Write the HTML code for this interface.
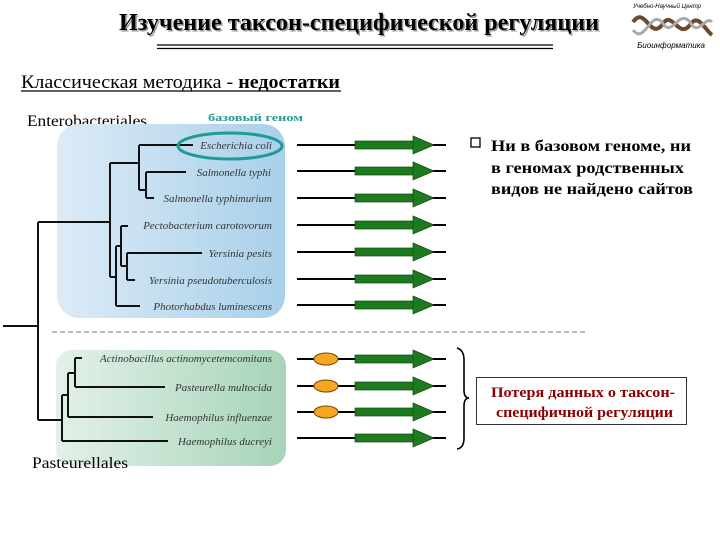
<!DOCTYPE html>
<html><head><meta charset="utf-8"><style>
html,body{margin:0;padding:0;background:#fff;width:720px;height:540px;overflow:hidden}
svg{display:block}
</style></head><body>
<svg width="720" height="540" xmlns="http://www.w3.org/2000/svg" font-family="'Liberation Serif','Noto Serif CJK SC',serif">
<defs>
<linearGradient id="gb" x1="0" x2="1" y1="0" y2="0"><stop offset="0" stop-color="#dcebf6"/><stop offset="1" stop-color="#a9d0ea"/></linearGradient>
<linearGradient id="gg" x1="0" x2="1" y1="0" y2="0"><stop offset="0" stop-color="#e3f1e8"/><stop offset="1" stop-color="#a6d4b9"/></linearGradient>
<g id="arr"><line x1="297" y1="0" x2="446" y2="0" stroke="#000" stroke-width="2"/><rect x="355" y="-4" width="59" height="8" fill="#1e7a1e" stroke="#0d4d0d" stroke-width="0.7"/><polygon points="413,-9 434,0 413,9" fill="#1e7a1e" stroke="#0d4d0d" stroke-width="0.7"/></g>
</defs>
<!-- title -->
<text x="119" y="30" font-size="24" font-weight="bold" fill="#999" transform="translate(1.5,1.5)" textLength="480" lengthAdjust="spacingAndGlyphs">Изучение таксон-специфической регуляции</text>
<text x="119" y="30" font-size="24" font-weight="bold" fill="#000" textLength="480" lengthAdjust="spacingAndGlyphs">Изучение таксон-специфической регуляции</text>
<line x1="157" y1="45" x2="553" y2="45" stroke="#000" stroke-width="1.2"/>
<line x1="157" y1="48.5" x2="553" y2="48.5" stroke="#000" stroke-width="1.2"/>
<!-- logo -->
<text x="667" y="8" text-anchor="middle" font-size="6" font-style="italic" font-family="'Liberation Sans',sans-serif">Учебно-Научный Центр</text>
<path d="M633 22 C645 5 650 40 662 25 C672 8 678 40 690 25 C698 12 705 30 712 35" stroke="#6b4a2a" stroke-width="4" fill="none"/>
<path d="M633 30 C645 45 650 10 662 22 C672 40 678 8 690 22 C698 38 705 15 712 22" stroke="#aaa" stroke-width="3" fill="none"/>
<text x="671" y="48" text-anchor="middle" font-size="8" font-style="italic" font-family="'Liberation Sans',sans-serif">Биоинформатика</text>
<!-- subtitle -->
<text x="21" y="88" font-size="19" textLength="319" lengthAdjust="spacingAndGlyphs"><tspan>Классическая методика - </tspan><tspan font-weight="bold">недостатки</tspan></text>
<line x1="21" y1="91" x2="341" y2="91" stroke="#000" stroke-width="1.2"/>
<text x="27" y="126" font-size="16" textLength="120" lengthAdjust="spacingAndGlyphs">Enterobacteriales</text>
<text x="208" y="121" font-size="11" font-weight="bold" fill="#2a9a93" textLength="95" lengthAdjust="spacingAndGlyphs">базовый геном</text>
<!-- boxes -->
<rect x="57" y="124" width="228" height="194" rx="22" fill="url(#gb)"/>
<rect x="56" y="350" width="230" height="116" rx="16" fill="url(#gg)"/>
<!-- tree -->
<g stroke="#111" stroke-width="2" fill="none">
<polyline points="3,326 38,326"/>
<polyline points="38,222 38,420"/>
<polyline points="38,222 110,222"/>
<polyline points="110,163 110,277"/>
<polyline points="110,163 139,163"/>
<polyline points="139,145 139,190"/>
<polyline points="139,145 193,145"/>
<polyline points="139,190 146,190"/>
<polyline points="146,172 146,198"/>
<polyline points="146,172 186,172"/>
<polyline points="146,198 154,198"/>
<polyline points="110,277 116,277"/>
<polyline points="116,246 116,306"/>
<polyline points="116,246 121,246"/>
<polyline points="121,226 121,266"/>
<polyline points="121,226 128,226"/>
<polyline points="121,266 127,266"/>
<polyline points="127,253 127,280"/>
<polyline points="127,253 202,253"/>
<polyline points="127,280 135,280"/>
<polyline points="116,306 140,306"/>
<polyline points="38,420 62,420"/>
<polyline points="62,395 62,441"/>
<polyline points="62,441 168,441"/>
<polyline points="62,395 68,395"/>
<polyline points="68,373 68,417"/>
<polyline points="68,417 153,417"/>
<polyline points="68,373 75,373"/>
<polyline points="75,358 75,387"/>
<polyline points="75,358 82,358"/>
<polyline points="75,387 165,387"/>
</g>
<g font-size="11" font-style="italic" fill="#333" text-anchor="end">
<text x="272" y="149">Escherichia coli</text>
<text x="271" y="176">Salmonella typhi</text>
<text x="272" y="202">Salmonella typhimurium</text>
<text x="272" y="229">Pectobacterium carotovorum</text>
<text x="272" y="257">Yersinia pesits</text>
<text x="272" y="284">Yersinia pseudotuberculosis</text>
<text x="272" y="310">Photorhabdus luminescens</text>
<text x="272" y="362">Actinobacillus actinomycetemcomitans</text>
<text x="272" y="391">Pasteurella multocida</text>
<text x="272" y="421">Haemophilus influenzae</text>
<text x="272" y="445">Haemophilus ducreyi</text>
</g>
<ellipse cx="230" cy="146" rx="52" ry="13" fill="none" stroke="#1f9b95" stroke-width="3"/>
<text x="32" y="468" font-size="16" textLength="96" lengthAdjust="spacingAndGlyphs">Pasteurellales</text>
<!-- dashed -->
<line x1="52" y1="332" x2="588" y2="332" stroke="#777" stroke-width="1" stroke-dasharray="5,3"/>
<!-- arrows -->
<use href="#arr" y="145"/><use href="#arr" y="171"/><use href="#arr" y="198"/><use href="#arr" y="225"/><use href="#arr" y="252"/><use href="#arr" y="279"/><use href="#arr" y="305"/>
<use href="#arr" y="359"/><use href="#arr" y="386"/><use href="#arr" y="412"/><use href="#arr" y="438"/>
<g fill="#f5a623" stroke="#7a4a00" stroke-width="1"><ellipse cx="326" cy="359" rx="12" ry="6"/><ellipse cx="326" cy="386" rx="12" ry="6"/><ellipse cx="326" cy="412" rx="12" ry="6"/></g>
<!-- brace -->
<path d="M457 348 Q464 350 464 360 L464 390 Q464 398 469 398 Q464 398 464 406 L464 438 Q464 448 457 449" fill="none" stroke="#000" stroke-width="1.6"/>
<!-- right text -->
<rect x="471" y="138" width="9" height="9" fill="none" stroke="#000" stroke-width="1.3"/>
<g font-size="16" font-weight="bold">
<text x="491" y="151" textLength="200" lengthAdjust="spacingAndGlyphs">Ни в базовом геноме, ни</text>
<text x="491" y="173" textLength="193" lengthAdjust="spacingAndGlyphs">в геномах родственных</text>
<text x="491" y="194" textLength="202" lengthAdjust="spacingAndGlyphs">видов не найдено сайтов</text>
</g>
<rect x="476.5" y="377.5" width="210" height="47" fill="#fff" stroke="#333" stroke-width="1"/>
<g font-size="15" font-weight="bold" fill="#8b0000">
<text x="491" y="397" textLength="184" lengthAdjust="spacingAndGlyphs">Потеря данных о таксон-</text>
<text x="496" y="417" textLength="177" lengthAdjust="spacingAndGlyphs">специфичной регуляции</text>
</g>
</svg>
</body></html>
